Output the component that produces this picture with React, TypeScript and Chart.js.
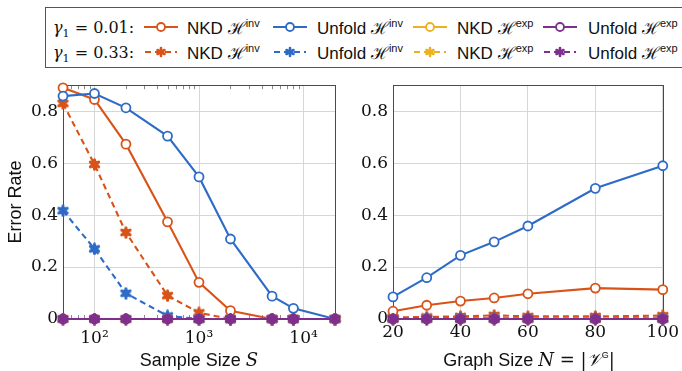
import React, { useEffect, useRef } from "react";
import { Chart, registerables } from "chart.js";

Chart.register(...registerables);

// ---------- data ----------
const sampleSizes = [50, 100, 200, 500, 1000, 2000, 5000, 8000, 20000];
const sNkdInvLow = [0.89, 0.845, 0.673, 0.374, 0.141, 0.032, 0, 0, 0];
const sUnfoldInvLow = [0.858, 0.868, 0.813, 0.704, 0.547, 0.308, 0.088, 0.041, 0];
const sNkdExpLow = [0, 0, 0, 0, 0, 0, 0, 0, 0];
const sUnfoldExpLow = [0, 0, 0, 0, 0, 0, 0, 0, 0];
const sNkdInvHigh = [0.83, 0.595, 0.333, 0.09, 0.024, 0, 0, 0, 0];
const sUnfoldInvHigh = [0.417, 0.27, 0.099, 0.012, 0, 0, 0, 0, 0];
const sNkdExpHigh = [0, 0, 0, 0, 0, 0, 0, 0, 0];
const sUnfoldExpHigh = [0, 0, 0, 0, 0, 0, 0, 0, 0];

const graphSizes = [20, 30, 40, 50, 60, 80, 100];
const gNkdInvLow = [0.03, 0.053, 0.069, 0.081, 0.097, 0.119, 0.113];
const gUnfoldInvLow = [0.085, 0.159, 0.245, 0.297, 0.358, 0.503, 0.59];
const gNkdExpLow = [0, 0, 0, 0, 0, 0, 0];
const gUnfoldExpLow = [0, 0, 0, 0, 0, 0, 0];
const gNkdInvHigh = [0.006, 0.008, 0.01, 0.014, 0.01, 0.01, 0.013];
const gUnfoldInvHigh = [0.002, 0.002, 0.003, 0.003, 0.002, 0.002, 0.003];
const gNkdExpHigh = [0, 0, 0, 0, 0, 0, 0];
const gUnfoldExpHigh = [0, 0, 0, 0, 0, 0, 0];

const logMajorTicks = [100, 1000, 10000];
const logMajorLabels = ["10²", "10³", "10⁴"];
const logMinorTicks = [60, 70, 80, 90, 200, 300, 400, 500, 600, 700, 800, 900, 2000, 3000, 4000, 5000, 6000, 7000, 8000, 9000, 20000];
const yTicks = [0, 0.2, 0.4, 0.6, 0.8];

// ---------- style ----------
const RED = "#D95319";
const BLUE = "#2E6BC6";
const YELLOW = "#EDB120";
const PURPLE = "#7E2F8E";
const SERIF = "'DejaVu Serif', serif";
const SANS = "'Liberation Sans', Arial, sans-serif";

type Series = { label: string; values: number[]; color: string; dashed: boolean; order: number };

function seriesFor(v: number[][]): Series[] {
  return [
    { label: "NKD Hinv (0.01)", values: v[0], color: RED, dashed: false, order: 5 },
    { label: "Unfold Hinv (0.01)", values: v[1], color: BLUE, dashed: false, order: 4 },
    { label: "NKD Hexp (0.01)", values: v[2], color: YELLOW, dashed: false, order: 3 },
    { label: "Unfold Hexp (0.01)", values: v[3], color: PURPLE, dashed: false, order: 1 },
    { label: "NKD Hinv (0.33)", values: v[4], color: RED, dashed: true, order: 7 },
    { label: "Unfold Hinv (0.33)", values: v[5], color: BLUE, dashed: true, order: 6 },
    { label: "NKD Hexp (0.33)", values: v[6], color: YELLOW, dashed: true, order: 2 },
    { label: "Unfold Hexp (0.33)", values: v[7], color: PURPLE, dashed: true, order: 0 },
  ];
}

const starCache: Record<string, HTMLCanvasElement> = {};
function asterisk(color: string): HTMLCanvasElement {
  if (starCache[color]) return starCache[color];
  const c = document.createElement("canvas");
  c.width = 13;
  c.height = 13;
  const ctx = c.getContext("2d")!;
  ctx.strokeStyle = color;
  ctx.fillStyle = color;
  ctx.lineWidth = 3;
  ctx.lineCap = "round";
  const r = 4.8;
  for (let k = 0; k < 3; k++) {
    const a = Math.PI / 2 + (k * Math.PI) / 3;
    ctx.beginPath();
    ctx.moveTo(6.5 + r * Math.cos(a), 6.5 + r * Math.sin(a));
    ctx.lineTo(6.5 - r * Math.cos(a), 6.5 - r * Math.sin(a));
    ctx.stroke();
  }
  ctx.beginPath();
  ctx.arc(6.5, 6.5, 3.9, 0, Math.PI * 2);
  ctx.fill();
  starCache[color] = c;
  return c;
}

function makeDatasets(xs: number[], list: Series[]) {
  return list.map((s) => ({
    label: s.label,
    data: xs.map((x, i) => ({ x, y: s.values[i] })),
    borderColor: s.color,
    backgroundColor: s.dashed ? s.color : "#ffffff",
    borderWidth: 2.1,
    borderDash: s.dashed ? [6, 4] : [],
    pointStyle: s.dashed ? asterisk(s.color) : "circle",
    pointRadius: 4.5,
    pointBorderWidth: 1.8,
    pointBorderColor: s.color,
    pointBackgroundColor: s.dashed ? s.color : "#ffffff",
    tension: 0,
    clip: false as any,
    order: s.order,
  }));
}

const framePlugin = {
  id: "frame",
  beforeDatasetsDraw(chart: any, _args: any, opts: any) {
    const { ctx, chartArea } = chart;
    const { left, right, top, bottom } = chartArea;
    ctx.save();
    ctx.strokeStyle = "#8a8a8a";
    ctx.lineWidth = 1;
    const xs = chart.scales.x;
    (opts.minor || []).forEach((v: number) => {
      const px = Math.round(xs.getPixelForValue(v)) + 0.5;
      ctx.beginPath();
      ctx.moveTo(px, bottom);
      ctx.lineTo(px, bottom - 4);
      ctx.moveTo(px, top);
      ctx.lineTo(px, top + 4);
      ctx.stroke();
    });
    ctx.strokeStyle = "#4a4a4a";
    ctx.lineWidth = 1;
    ctx.strokeRect(Math.round(left) + 0.5, Math.round(top) + 0.5, Math.round(right - left), Math.round(bottom - top));
    ctx.restore();
  },
};

function yScale(width: number, withTitle: boolean) {
  return {
    type: "linear",
    min: 0,
    max: 0.9,
    afterBuildTicks: (s: any) => {
      s.ticks = yTicks.map((v) => ({ value: v }));
    },
    afterFit: (s: any) => {
      s.width = width;
    },
    grid: { color: "#d6d6d6", lineWidth: 1, drawTicks: false },
    border: { display: false },
    ticks: {
      padding: 5,
      color: "#111",
      font: { family: SERIF, size: 17 },
      callback: (v: number) => (v === 0 ? "0" : v.toFixed(1)),
    },
    title: withTitle
      ? { display: true, text: "Error Rate", color: "#111", font: { family: SANS, size: 18 }, padding: { top: 5, bottom: 0 } }
      : { display: false },
  };
}

function LeftChart() {
  const ref = useRef<HTMLCanvasElement>(null);
  useEffect(() => {
    const chart = new Chart(ref.current!, {
      type: "line",
      data: {
        datasets: makeDatasets(
          sampleSizes,
          seriesFor([sNkdInvLow, sUnfoldInvLow, sNkdExpLow, sUnfoldExpLow, sNkdInvHigh, sUnfoldInvHigh, sNkdExpHigh, sUnfoldExpHigh])
        ) as any,
      },
      options: {
        responsive: false,
        animation: false,
        layout: { padding: { top: 14, right: 10, left: 0, bottom: 0 } },
        plugins: { legend: { display: false }, tooltip: { enabled: false }, frame: { minor: logMinorTicks } } as any,
        scales: {
          x: {
            type: "logarithmic",
            min: 50,
            max: 20000,
            afterBuildTicks: (s: any) => {
              s.ticks = logMajorTicks.map((v) => ({ value: v, major: true }));
            },
            afterFit: (s: any) => {
              s.height = 52;
            },
            grid: { color: "#d6d6d6", lineWidth: 1, drawTicks: false },
            border: { display: false },
            ticks: {
              padding: 9,
              color: "#111",
              autoSkip: false,
              maxRotation: 0,
              font: { family: SERIF, size: 17 },
              callback: (v: number) => logMajorLabels[logMajorTicks.indexOf(v)] ?? "",
            },
          },
          y: yScale(63, true),
        } as any,
      },
      plugins: [framePlugin],
    });
    return () => chart.destroy();
  }, []);
  return <canvas ref={ref} width={345} height={301} style={{ position: "absolute", left: 0, top: 70 }} />;
}

function RightChart() {
  const ref = useRef<HTMLCanvasElement>(null);
  useEffect(() => {
    const chart = new Chart(ref.current!, {
      type: "line",
      data: {
        datasets: makeDatasets(
          graphSizes,
          seriesFor([gNkdInvLow, gUnfoldInvLow, gNkdExpLow, gUnfoldExpLow, gNkdInvHigh, gUnfoldInvHigh, gNkdExpHigh, gUnfoldExpHigh])
        ) as any,
      },
      options: {
        responsive: false,
        animation: false,
        layout: { padding: { top: 14, right: 16, left: 0, bottom: 0 } },
        plugins: { legend: { display: false }, tooltip: { enabled: false }, frame: { minor: [] } } as any,
        scales: {
          x: {
            type: "linear",
            min: 20,
            max: 100,
            afterFit: (s: any) => {
              s.height = 52;
            },
            grid: { color: "#d6d6d6", lineWidth: 1, drawTicks: false },
            border: { display: false },
            ticks: {
              stepSize: 20,
              padding: 3,
              color: "#111",
              maxRotation: 0,
              font: { family: SERIF, size: 17 },
            },
          },
          y: yScale(48, false),
        } as any,
      },
      plugins: [framePlugin],
    });
    return () => chart.destroy();
  }, []);
  return <canvas ref={ref} width={337} height={301} style={{ position: "absolute", left: 345, top: 70 }} />;
}

function Sample({ color, dashed }: { color: string; dashed: boolean }) {
  const spokes = [0, 1, 2].map((k) => {
    const a = Math.PI / 2 + (k * Math.PI) / 3;
    const r = 4;
    return (
      <line key={k} x1={17 + r * Math.cos(a)} y1={7 + r * Math.sin(a)} x2={17 - r * Math.cos(a)} y2={7 - r * Math.sin(a)} />
    );
  });
  return (
    <svg width={34} height={14} viewBox="0 0 34 14" style={{ display: "block" }}>
      {dashed ? (
        <g>
          <line x1={1} y1={7} x2={33} y2={7} stroke={color} strokeWidth={2} strokeDasharray="6 4" />
          <g stroke={color} strokeWidth={2.6} strokeLinecap="round">
            {spokes}
          </g>
          <circle cx={17} cy={7} r={2.2} fill={color} />
        </g>
      ) : (
        <g>
          <line x1={0} y1={7} x2={34} y2={7} stroke={color} strokeWidth={2} />
          <circle cx={17} cy={7} r={4} fill="#fff" stroke={color} strokeWidth={1.8} />
        </g>
      )}
    </svg>
  );
}

const legendNames = [
  { name: "NKD", sup: "inv", color: RED },
  { name: "Unfold", sup: "inv", color: BLUE },
  { name: "NKD", sup: "exp", color: YELLOW },
  { name: "Unfold", sup: "exp", color: PURPLE },
];
const legendGammas = ["0.01", "0.33"];
const sampleX = [144, 273, 413, 543];
const textX = [187, 317, 457, 588];
const rowY = [27, 52];

function Legend() {
  const items: React.ReactNode[] = [];
  legendGammas.forEach((g, r) => {
    items.push(
      <div
        key={"g" + r}
        style={{ position: "absolute", left: 53, top: rowY[r], transform: "translateY(-50%)", fontFamily: SERIF, fontSize: 16, whiteSpace: "nowrap", color: "#111" }}
      >
        <i>γ</i>
        <span style={{ fontSize: 11, position: "relative", top: 4 }}>1</span> = {g}:
      </div>
    );
    legendNames.forEach((n, c) => {
      items.push(
        <div key={`s${r}${c}`} style={{ position: "absolute", left: sampleX[c], top: rowY[r] - 7 }}>
          <Sample color={n.color} dashed={r === 1} />
        </div>
      );
      items.push(
        <div
          key={`t${r}${c}`}
          style={{ position: "absolute", left: textX[c], top: rowY[r], transform: "translateY(-50%)", fontFamily: SANS, fontSize: 17, whiteSpace: "nowrap", color: "#111" }}
        >
          {n.name} <span style={{ fontFamily: SERIF }}>ℋ</span>
          <span style={{ fontSize: 11, position: "relative", top: -7 }}>{n.sup}</span>
        </div>
      );
    });
  });
  return (
    <>
      <div style={{ position: "absolute", left: 45, top: 7, width: 660, height: 61, border: "1px solid #555", boxSizing: "border-box" }} />
      {items}
    </>
  );
}

export default function App() {
  return (
    <div style={{ position: "fixed", left: 0, top: 0, width: 682, height: 371, overflow: "hidden", background: "#fff" }}>
      <Legend />
      <LeftChart />
      <RightChart />
      <div style={{ position: "absolute", left: 199, top: 360, transform: "translate(-50%, -50%)", fontFamily: SANS, fontSize: 18, whiteSpace: "nowrap", color: "#111" }}>
        Sample Size <span style={{ fontFamily: SERIF, fontStyle: "italic" }}>S</span>
      </div>
      <div style={{ position: "absolute", left: 529, top: 360, transform: "translate(-50%, -50%)", fontFamily: SANS, fontSize: 18, whiteSpace: "nowrap", color: "#111" }}>
        Graph Size <span style={{ fontFamily: SERIF, fontStyle: "italic" }}>N</span>
        <span style={{ fontFamily: SERIF }}> = |</span>
        <span style={{ fontFamily: SERIF, fontStyle: "italic" }}>𝒱</span>
        <span style={{ fontSize: 9, position: "relative", top: -8 }}>G</span>
        <span style={{ fontFamily: SERIF }}>|</span>
      </div>
    </div>
  );
}
